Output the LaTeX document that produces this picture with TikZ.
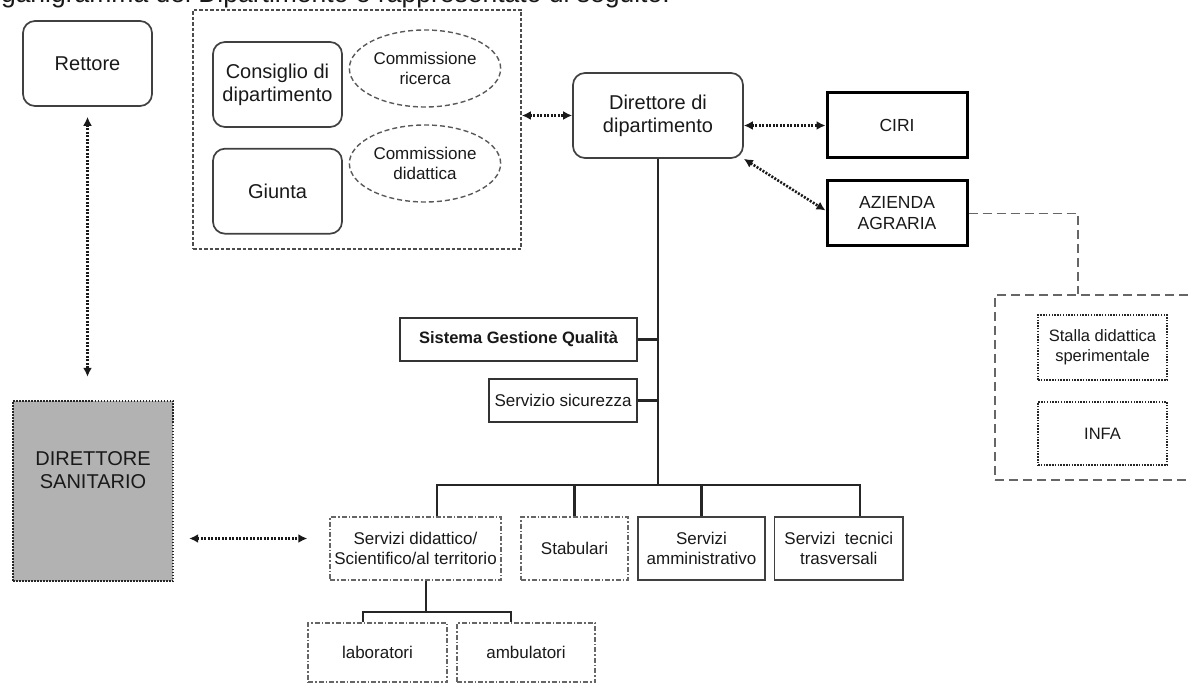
\documentclass[tikz,border=0pt]{standalone}
\usepackage{fontspec}
\setmainfont{Liberation Sans}
\usetikzlibrary{arrows.meta, positioning, shapes.geometric, calc}

\begin{document}
\begin{tikzpicture}[
    x=1pt, y=-1pt,
    every node/.style={text=black!90, inner sep=2pt},
    rbox/.style={rectangle, rounded corners=12pt, draw=black!75, line width=1.7pt, align=center, minimum width=129pt, minimum height=85pt, font=\fontsize{20}{23}\selectfont},
    comm/.style={ellipse, draw=black!65, line width=1.4pt, dash pattern=on 5pt off 3pt, minimum width=150pt, minimum height=77pt, align=center, font=\fontsize{17}{20}\selectfont},
    groupbox/.style={rectangle, draw=black!70, line width=1.7pt, dash pattern=on 3.5pt off 2pt},
    thickbox/.style={rectangle, draw=black, line width=3pt, minimum width=140pt, minimum height=65pt, align=center, font=\fontsize{17.5}{21}\selectfont},
    farmbox/.style={rectangle, draw=black!60, line width=1.6pt, dash pattern=on 9pt off 5pt},
    dotbox/.style={rectangle, draw=black!85, line width=2.2pt, dash pattern=on 1.5pt off 1.3pt, minimum width=129pt, align=center, font=\fontsize{16.5}{20}\selectfont},
    sanbox/.style={rectangle, draw=black!85, fill=black!30, line width=2.4pt, dash pattern=on 1.5pt off 1.5pt, minimum width=160pt, minimum height=180pt},
    plainbox/.style={rectangle, draw=black!80, line width=1.7pt, minimum height=43pt, align=center, font=\fontsize{17}{20}\selectfont},
    dashdotbox/.style={rectangle, draw=black!60, line width=1.4pt, dash pattern=on 5pt off 2pt on 1.5pt off 2pt, minimum height=63pt, align=center, font=\fontsize{17}{20}\selectfont},
    servbox/.style={rectangle, draw=black!75, line width=1.9pt, minimum height=63pt, align=center, font=\fontsize{17}{20}\selectfont},
    dotarrow/.style={{Latex[length=9pt,width=9pt]}-{Latex[length=9pt,width=9pt]}, draw=black!90, line width=2.6pt, dash pattern=on 2pt off 1.5pt},
    tree/.style={draw=black!85, line width=2.2pt},
    farmlink/.style={draw=black!60, line width=1.6pt, dash pattern=on 9pt off 5pt}
]
\useasboundingbox (0,0) rectangle (1188,684);
\clip (0,0) rectangle (1188,684);

% intro line (cut at the top)
\node[anchor=base east, inner sep=0pt, font=\fontsize{26.5}{30}\selectfont] (intro) at (670,3) {L'organigramma del Dipartimento è rappresentato di seguito:};

% Left Section
\node[rbox] (rettore) at (87.5,63.5) {Rettore};
\node[sanbox, label={[yshift=21pt, align=center, font=\fontsize{20}{23}\selectfont]center:DIRETTORE\\SANITARIO}] (sanitario) at (93,491) {};

% Organi Section
\node[groupbox, minimum width=328pt, minimum height=239pt] (organi) at (357,129.5) {};
\node[rbox] (consiglio) at (277.5,84.5) {Consiglio di\\dipartimento};
\node[rbox, below=20pt of consiglio] (giunta) {Giunta};
\node[comm] (commric) at (425,68.5) {Commissione\\ricerca};
\node[comm] (commdid) at (425,163.5) {Commissione\\didattica};

% Direttore Section
\node[rbox, minimum width=170pt] (direttore) at (658,115.5) {Direttore di\\dipartimento};
\node[thickbox] (ciri) at (897,125.5) {CIRI};
\node[thickbox, below=20pt of ciri] (azienda) {AZIENDA\\AGRARIA};

% Azienda Section
\node[farmbox, minimum width=200pt, minimum height=185pt] (farm) at (1095,387.5) {};
\node[dotbox, minimum height=65pt] (stalla) at (1102.5,347.5) {Stalla didattica\\sperimentale};
\node[dotbox, minimum height=63pt] (infa) at (1102.5,433.5) {INFA};

% Staff Section
\node[plainbox, line width=2.2pt, minimum width=237pt, font=\bfseries\fontsize{16.5}{20}\selectfont] (sgq) at (518.5,339.5) {Sistema Gestione Qualità};
\node[plainbox, minimum width=148pt] (sicurezza) at (563,400.5) {Servizio sicurezza};

% Servizi Section
\node[dashdotbox, minimum width=171pt] (didattico) at (415.5,548.5) {Servizi didattico/\\Scientifico/al territorio};
\node[dashdotbox, minimum width=107pt] (stabulari) at (574.5,548.5) {Stabulari};
\node[servbox, minimum width=127pt] (ammin) at (701.5,548.5) {Servizi\\amministrativo};
\node[servbox, minimum width=128.5pt] (tecnici) at (838.75,548.5) {Servizi~~tecnici\\trasversali};
\node[dashdotbox, minimum width=139pt, minimum height=59pt] (labor) at (377.5,652.5) {laboratori};
\node[dashdotbox, minimum width=138pt, minimum height=59pt] (ambul) at (526,652.5) {ambulatori};

\coordinate (bus) at (658,485);
\coordinate (subbus) at (426,612);
\coordinate (sanin) at ([yshift=10pt]didattico.west);

% Arrows
\draw[dotarrow] (organi.east |- direttore.west) -- (direttore.west);
\draw[dotarrow] (direttore.east |- ciri.west) -- (ciri.west);
\draw[dotarrow] (direttore.south east) -- ([yshift=3pt]azienda.west);
\draw[dotarrow, shorten <=10pt, shorten >=23pt] (rettore.south) -- (rettore.south |- sanitario.north);
\draw[dotarrow, shorten <=15pt, shorten >=22pt] (sanitario.east |- sanin) -- (sanin);

\draw[farmlink] (azienda.east) -| ([xshift=-17pt]farm.north);

% Tree
\draw[tree] (direttore.south) -- (bus);
\draw[tree] (sgq.east) -- (sgq.east -| bus);
\draw[tree] (sicurezza.east) -- (sicurezza.east -| bus);
\draw[tree] ([xshift=21.5pt]didattico.north) |- (bus) -| ([xshift=21pt]tecnici.north);
\draw[tree] (stabulari.north) -- (stabulari.north |- bus);
\draw[tree] (ammin.north) -- (ammin.north |- bus);
\draw[tree] ([xshift=10.5pt]didattico.south) -- (subbus);
\draw[tree] ([xshift=-14.5pt]labor.north) |- (subbus) -| ([xshift=-15pt]ambul.north);

\end{tikzpicture}
\end{document}
